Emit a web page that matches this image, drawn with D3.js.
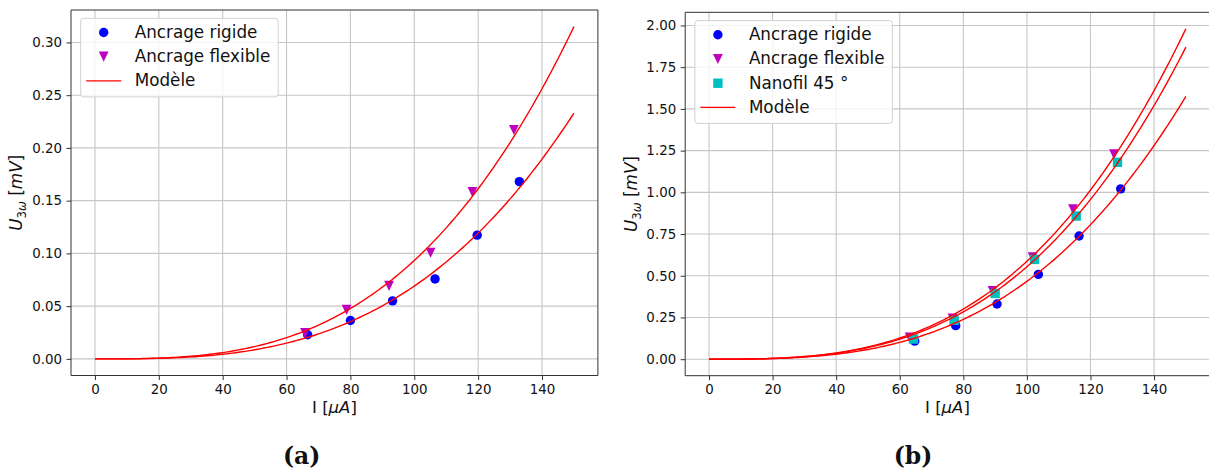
<!DOCTYPE html>
<html>
<head>
<meta charset="utf-8">
<script src="https://cdn.jsdelivr.net/npm/d3@7"></script>
<style>
  html, body { margin: 0; padding: 0; background: #fff; }
  svg { display: block; }
  text { font-family: "DejaVu Sans", sans-serif; fill: #111; }
</style>
</head>
<body>
<svg id="chart" width="1209" height="476"></svg>
<script>
// ---------- DATA ----------
const xTicks = [0, 20, 40, 60, 80, 100, 120, 140];
const yTicksA = [0, 0.05, 0.10, 0.15, 0.20, 0.25, 0.30];
const yTicksB = [0, 0.25, 0.50, 0.75, 1.00, 1.25, 1.50, 1.75, 2.00];

// (a)
const rigideA_I = [66.6, 80.0, 93.2, 106.5, 119.7, 132.9];
const rigideA_U = [0.0229, 0.0364, 0.055, 0.0758, 0.1173, 0.168];
const flexA_I = [65.8, 78.8, 92.1, 105.1, 118.2, 131.2];
const flexA_U = [0.0245, 0.0465, 0.0692, 0.1006, 0.158, 0.217];
const modelA_Uend = [0.233, 0.315];   // model value at I = 150 µA (rigide, flexible)

// (b)
const rigideB_I = [64.7, 77.6, 90.6, 103.6, 116.4, 129.5];
const rigideB_U = [0.108, 0.201, 0.331, 0.508, 0.738, 1.021];
const flexB_I = [63.1, 76.6, 89.2, 101.8, 114.5, 127.4];
const flexB_U = [0.130, 0.243, 0.408, 0.610, 0.898, 1.228];
const nanoB_I = [64.3, 77.1, 90.0, 102.4, 115.5, 128.5];
const nanoB_U = [0.121, 0.233, 0.394, 0.598, 0.858, 1.180];
const modelB_Uend = [1.575, 1.870, 1.980]; // rigide, nanofil, flexible

const legendA = ["Ancrage rigide", "Ancrage flexible", "Modèle"];
const legendB = ["Ancrage rigide", "Ancrage flexible", "Nanofil 45 °", "Modèle"];
const captions = ["(a)", "(b)"];

// ---------- STYLE ----------
const C_BLUE = "#0000ff", C_MAG = "#bf00bf", C_CYAN = "#00bfbf", C_RED = "#ff0000";
const MS = 9.4;
const svg = d3.select("#chart");

function zip(a, b) { return a.map((v, i) => [v, b[i]]); }

function markerPath(kind) {
  const h = MS / 2;
  if (kind === "v") return `M0,${h + 0.4}L${-h - 0.2},${-h - 0.4}L${h + 0.2},${-h - 0.4}Z`;
  if (kind === "s") return `M${-h},${-h}H${h}V${h}H${-h}Z`;
  return null;
}

function drawMarker(g, kind, color, x, y) {
  if (kind === "o") {
    g.append("circle").attr("cx", x).attr("cy", y).attr("r", MS / 2).attr("fill", color);
  } else {
    g.append("path").attr("d", markerPath(kind)).attr("transform", `translate(${x},${y})`).attr("fill", color);
  }
}

function panel(opt) {
  const { x0, x1, y0, y1, yMax, yTicks, series, models, legend, ylabelX, captionX, caption, rightSpine } = opt;
  const pad = 0.05;
  const x = d3.scaleLinear().domain([0 - 150 * pad, 150 + 150 * pad]).range([x0, x1]);
  const y = d3.scaleLinear().domain([0 - yMax * pad, yMax + yMax * pad]).range([y1, y0]);
  const g = svg.append("g");

  // grid
  g.append("g").selectAll("line").data(xTicks).join("line")
    .attr("x1", d => x(d)).attr("x2", d => x(d)).attr("y1", y0).attr("y2", y1)
    .attr("stroke", "#c6c6c6").attr("stroke-width", 1.1);
  g.append("g").selectAll("line").data(yTicks).join("line")
    .attr("y1", d => y(d)).attr("y2", d => y(d)).attr("x1", x0).attr("x2", x1)
    .attr("stroke", "#c6c6c6").attr("stroke-width", 1.1);

  // axes
  const ax = g.append("g").attr("transform", `translate(0,${y1})`)
    .call(d3.axisBottom(x).tickValues(xTicks).tickFormat(d3.format("d")).tickSize(4.5).tickPadding(4));
  const ay = g.append("g").attr("transform", `translate(${x0},0)`)
    .call(d3.axisLeft(y).tickValues(yTicks).tickFormat(d3.format(".2f")).tickSize(4.5).tickPadding(4.5));
  [ax, ay].forEach(a => {
    a.select(".domain").remove();
    a.selectAll(".tick line").attr("stroke", "#333").attr("stroke-width", 1);
    a.selectAll(".tick text").attr("font-family", "DejaVu Sans").attr("font-size", 13.4).attr("fill", "#111");
  });

  // data points
  const pts = g.append("g");
  series.forEach(s => {
    zip(s.I, s.U).forEach(([i, u]) => drawMarker(pts, s.kind, s.color, x(i), y(u)));
  });

  // model curves (cubic: U = U(150) * (I/150)^3)
  const line = d3.line().x(d => x(d[0])).y(d => y(d[1]));
  const Is = d3.range(0, 150.001, 1);
  models.forEach(uEnd => {
    g.append("path").attr("d", line(Is.map(i => [i, uEnd * Math.pow(i / 150, 3)])))
      .attr("fill", "none").attr("stroke", C_RED).attr("stroke-width", 1.4);
  });

  // spines
  const sp = g.append("g").attr("stroke", "#333").attr("stroke-width", 1).attr("fill", "none");
  sp.append("line").attr("x1", x0).attr("x2", x0).attr("y1", y0).attr("y2", y1);
  sp.append("line").attr("x1", x0).attr("x2", x1).attr("y1", y1).attr("y2", y1);
  sp.append("line").attr("x1", x0).attr("x2", x1).attr("y1", y0).attr("y2", y0);
  if (rightSpine) sp.append("line").attr("x1", x1).attr("x2", x1).attr("y1", y0).attr("y2", y1);

  // legend
  const lx = x0 + 9.7, ly = y0 + 8.3, step = 24.2;
  const lw = 197.5, lh = 14.2 + step * (legend.length - 1) + 16;
  const lg = g.append("g");
  lg.append("rect").attr("x", lx).attr("y", ly).attr("width", lw).attr("height", lh)
    .attr("rx", 3).attr("fill", "#fff").attr("fill-opacity", 0.8)
    .attr("stroke", "#d0d0d0").attr("stroke-width", 1);
  legend.forEach((name, k) => {
    const cy = ly + 14.2 + k * step;
    if (k < series.length) {
      drawMarker(lg, series[k].kind, series[k].color, lx + 23, cy);
    } else {
      lg.append("line").attr("x1", lx + 5.5).attr("x2", lx + 40.5).attr("y1", cy).attr("y2", cy)
        .attr("stroke", C_RED).attr("stroke-width", 1.4);
    }
    lg.append("text").attr("x", lx + 54).attr("y", cy + 5.4).attr("font-size", 16.8).text(name);
  });

  // x label
  const xl = g.append("text").attr("x", (x0 + Math.min(x1, 1209.7)) / 2).attr("y", 413)
    .attr("text-anchor", "middle").attr("font-size", 16.5);
  xl.append("tspan").text("I [");
  xl.append("tspan").attr("font-style", "italic").text("μA");
  xl.append("tspan").text("]");

  // y label
  const yc = (y0 + y1) / 2;
  const yl = g.append("text").attr("transform", `translate(${ylabelX},${yc}) rotate(-90)`)
    .attr("text-anchor", "middle").attr("font-size", 16.8);
  yl.append("tspan").attr("font-style", "italic").text("U");
  yl.append("tspan").attr("font-size", 11.8).attr("dy", 3.8).text("3");
  yl.append("tspan").attr("font-size", 11.8).attr("font-style", "italic").text("ω");
  yl.append("tspan").attr("dy", -3.8).text(" [");
  yl.append("tspan").attr("font-style", "italic").text("mV");
  yl.append("tspan").text("]");

  // caption
  g.append("text").attr("x", captionX).attr("y", 464).attr("text-anchor", "middle")
    .attr("font-weight", "bold").attr("font-size", 23.5)
    .style("font-family", "'DejaVu Serif', serif").text(caption);
}

panel({
  x0: 71, x1: 597.9, y0: 10, y1: 375.5, yMax: 0.315, yTicks: yTicksA,
  series: [
    { I: rigideA_I, U: rigideA_U, kind: "o", color: C_BLUE },
    { I: flexA_I, U: flexA_U, kind: "v", color: C_MAG }
  ],
  models: modelA_Uend, legend: legendA, ylabelX: 22, captionX: 301.7, caption: captions[0], rightSpine: true
});

panel({
  x0: 685.2, x1: 1209.7, y0: 12.3, y1: 375.7, yMax: 1.98, yTicks: yTicksB,
  series: [
    { I: rigideB_I, U: rigideB_U, kind: "o", color: C_BLUE },
    { I: flexB_I, U: flexB_U, kind: "v", color: C_MAG },
    { I: nanoB_I, U: nanoB_U, kind: "s", color: C_CYAN }
  ],
  models: modelB_Uend, legend: legendB, ylabelX: 637, captionX: 913, caption: captions[1], rightSpine: true
});
</script>
</body>
</html>
